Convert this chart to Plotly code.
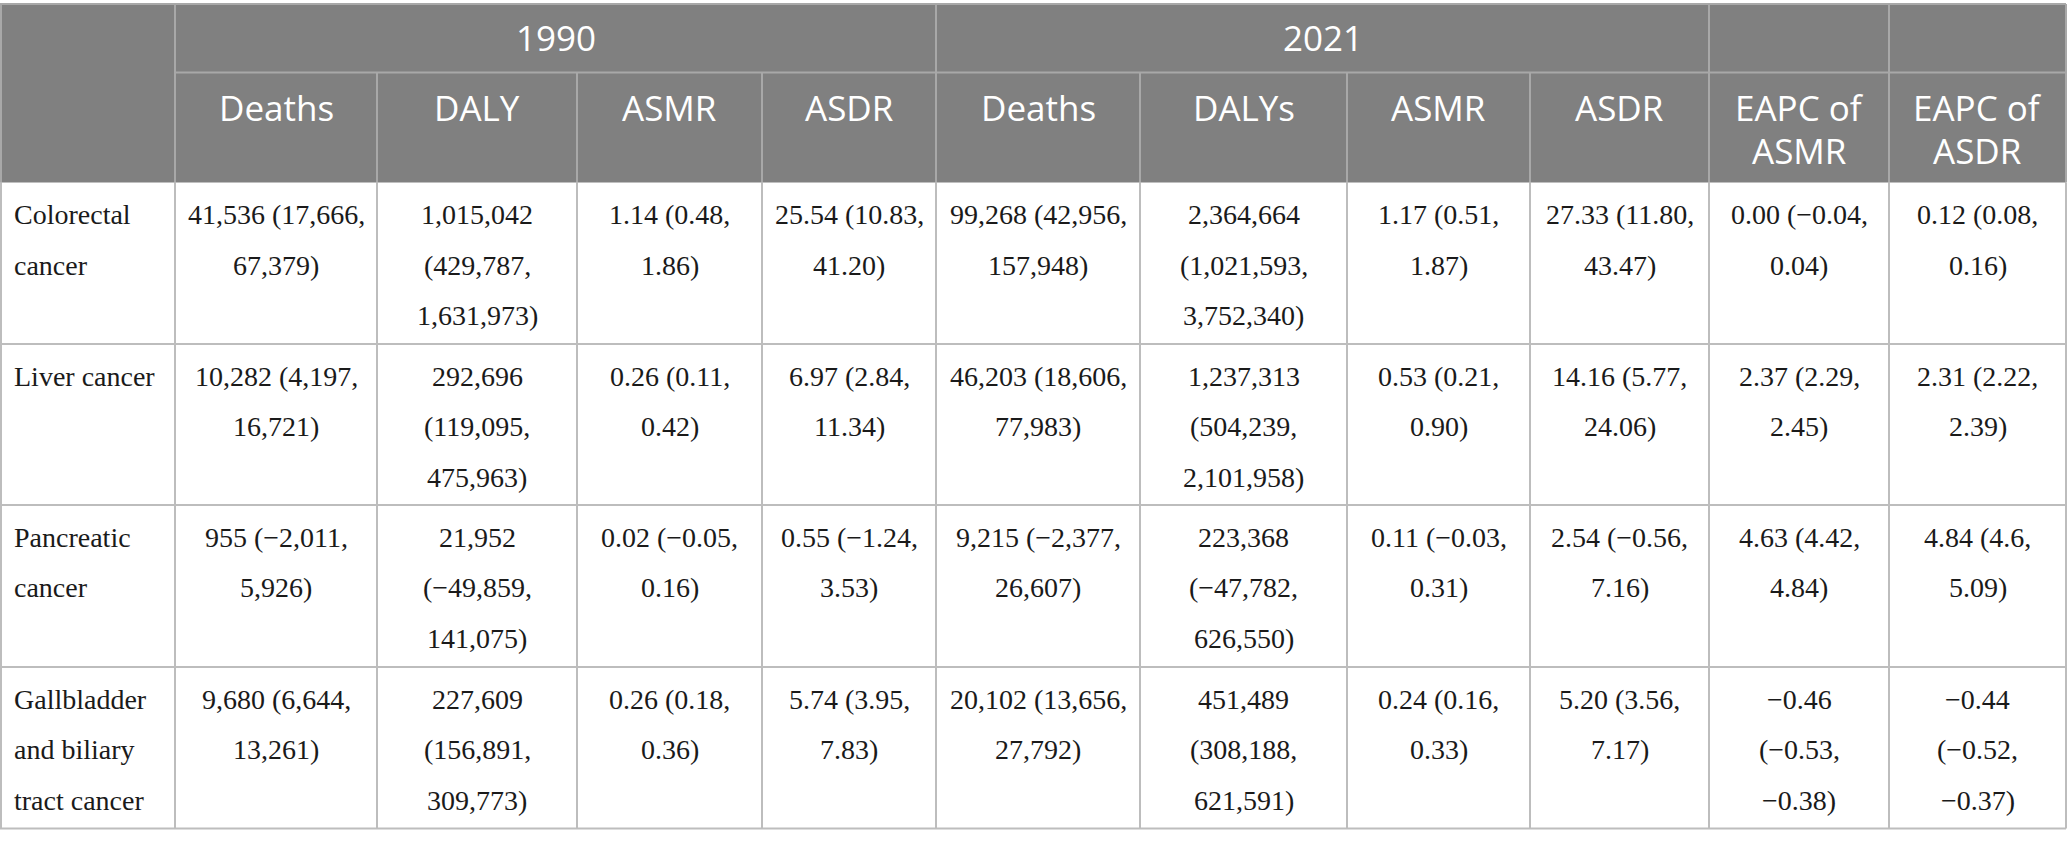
import plotly.graph_objects as go

# --- DATA ---
causes = ["Colorectal<br>cancer", "Liver cancer", "Pancreatic<br>cancer",
          "Gallbladder<br>and biliary<br>tract cancer"]

year_groups = ["1990", "2021"]
measures_1990 = ["Deaths", "DALY", "ASMR", "ASDR"]
measures_2021 = ["Deaths", "DALYs", "ASMR", "ASDR"]
eapc_labels = ["EAPC of<br>ASMR", "EAPC of<br>ASDR"]

deaths_1990 = ["41,536 (17,666,<br>67,379)", "10,282 (4,197,<br>16,721)",
               "955 (−2,011,<br>5,926)", "9,680 (6,644,<br>13,261)"]
daly_1990 = ["1,015,042<br>(429,787,<br>1,631,973)", "292,696<br>(119,095,<br>475,963)",
             "21,952<br>(−49,859,<br>141,075)", "227,609<br>(156,891,<br>309,773)"]
asmr_1990 = ["1.14 (0.48,<br>1.86)", "0.26 (0.11,<br>0.42)",
             "0.02 (−0.05,<br>0.16)", "0.26 (0.18,<br>0.36)"]
asdr_1990 = ["25.54 (10.83,<br>41.20)", "6.97 (2.84,<br>11.34)",
             "0.55 (−1.24,<br>3.53)", "5.74 (3.95,<br>7.83)"]
deaths_2021 = ["99,268 (42,956,<br>157,948)", "46,203 (18,606,<br>77,983)",
               "9,215 (−2,377,<br>26,607)", "20,102 (13,656,<br>27,792)"]
dalys_2021 = ["2,364,664<br>(1,021,593,<br>3,752,340)", "1,237,313<br>(504,239,<br>2,101,958)",
              "223,368<br>(−47,782,<br>626,550)", "451,489<br>(308,188,<br>621,591)"]
asmr_2021 = ["1.17 (0.51,<br>1.87)", "0.53 (0.21,<br>0.90)",
             "0.11 (−0.03,<br>0.31)", "0.24 (0.16,<br>0.33)"]
asdr_2021 = ["27.33 (11.80,<br>43.47)", "14.16 (5.77,<br>24.06)",
             "2.54 (−0.56,<br>7.16)", "5.20 (3.56,<br>7.17)"]
eapc_asmr = ["0.00 (−0.04,<br>0.04)", "2.37 (2.29,<br>2.45)",
             "4.63 (4.42,<br>4.84)", "−0.46<br>(−0.53,<br>−0.38)"]
eapc_asdr = ["0.12 (0.08,<br>0.16)", "2.31 (2.22,<br>2.39)",
             "4.84 (4.6,<br>5.09)", "−0.44<br>(−0.52,<br>−0.37)"]

columns = [causes, deaths_1990, daly_1990, asmr_1990, asdr_1990,
           deaths_2021, dalys_2021, asmr_2021, asdr_2021, eapc_asmr, eapc_asdr]

# --- LAYOUT (pixel grid) ---
W, H = 2067, 847
col_edges = [0, 175, 377, 577, 762, 936, 1140, 1347, 1530, 1709, 1889, 2066]
row_edges = [344, 505, 667, 828.5]
top_y, head_mid_y, head_bot_y = 4, 72.5, 182.5

header_fill = "#808080"
header_line = "#a8a8a8"
body_line = "#bdbdbd"
text_dark = "#1a1a1a"
sans = "Open Sans"
serif = "Liberation Serif"

body_size = 28
head_size = 35
body_spacing = 50.5
head_spacing = 43

shapes = []
annotations = []


def hline(y, x0, x1, color):
    shapes.append(dict(type="line", xref="x", yref="y", x0=x0, x1=x1, y0=y, y1=y,
                       line=dict(color=color, width=2)))


def vline(x, y0, y1, color):
    shapes.append(dict(type="line", xref="x", yref="y", x0=x, x1=x, y0=y0, y1=y1,
                       line=dict(color=color, width=2)))


def put_lines(text, x, y_first, spacing, font, anchor):
    for i, part in enumerate(text.split("<br>")):
        annotations.append(dict(xref="x", yref="y", x=x, y=y_first + i * spacing,
                                text=part, showarrow=False, xanchor=anchor,
                                yanchor="middle", font=font))


# header background
shapes.append(dict(type="rect", xref="x", yref="y", x0=0, x1=col_edges[-1],
                   y0=top_y, y1=head_bot_y, fillcolor=header_fill, line_width=0,
                   layer="below"))

# header grid
hline(top_y, 0, col_edges[-1], header_line)
hline(head_mid_y, col_edges[1], col_edges[-1], header_line)
for x in [col_edges[0] + 1, col_edges[1], col_edges[5], col_edges[9], col_edges[10], col_edges[-1]]:
    vline(x, top_y, head_bot_y, header_line)
for x in col_edges[2:5] + col_edges[6:9]:
    vline(x, head_mid_y, head_bot_y, header_line)

# body grid
for y in row_edges:
    hline(y, 0, col_edges[-1], body_line)
for x in [col_edges[0] + 1] + col_edges[1:]:
    vline(x, head_bot_y, row_edges[-1], body_line)

# header text
head_font = dict(family=sans, size=head_size, color="white")
put_lines(year_groups[0], (col_edges[1] + col_edges[5]) / 2, 37, head_spacing, head_font, "center")
put_lines(year_groups[1], (col_edges[5] + col_edges[9]) / 2, 37, head_spacing, head_font, "center")
for i, lab in enumerate(measures_1990 + measures_2021 + eapc_labels):
    xc = (col_edges[i + 1] + col_edges[i + 2]) / 2
    put_lines(lab, xc, 107, head_spacing, head_font, "center")

# body text
body_font = dict(family=serif, size=body_size, color=text_dark)
row_tops = [head_bot_y] + row_edges[:-1]
for c, col in enumerate(columns):
    for r, val in enumerate(col):
        y_first = row_tops[r] + 32
        if c == 0:
            put_lines(val, col_edges[0] + 12, y_first, body_spacing, body_font, "left")
        else:
            xc = (col_edges[c] + col_edges[c + 1]) / 2
            put_lines(val, xc, y_first, body_spacing, body_font, "center")

fig = go.Figure()
fig.update_layout(
    width=W, height=H,
    margin=dict(l=0, r=0, t=0, b=0),
    paper_bgcolor="white", plot_bgcolor="white",
    xaxis=dict(range=[0, W], visible=False, fixedrange=True),
    yaxis=dict(range=[H, 0], visible=False, fixedrange=True),
    shapes=shapes, annotations=annotations,
    showlegend=False,
)

fig.write_html("out.html", config={"displayModeBar": False},
               post_script="document.body.style.margin = '0';")
